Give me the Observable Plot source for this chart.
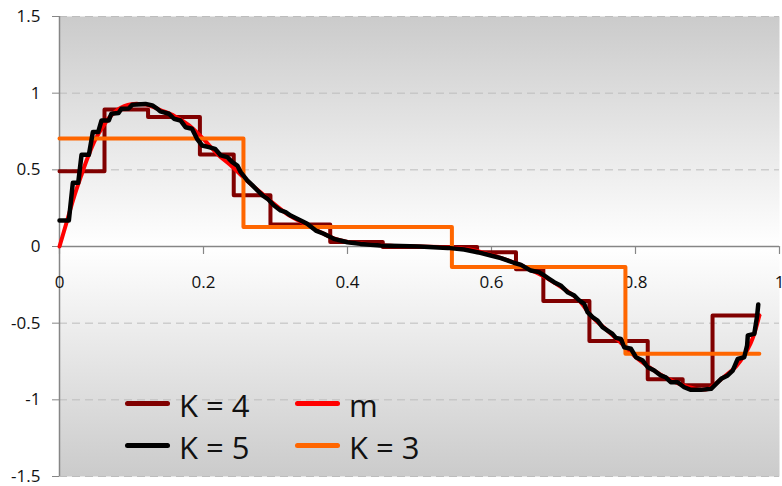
<!DOCTYPE html>
<html>
<head>
<meta charset="utf-8">
<script src="https://cdn.jsdelivr.net/npm/d3@7"></script>
<script src="https://cdn.jsdelivr.net/npm/@observablehq/plot@0.6"></script>
<style>
html, body { margin: 0; padding: 0; background: #fff; }
#chart { position: relative; width: 782px; height: 486px; font-family: "Open Sans", sans-serif; }
#chart svg { display: block; background: linear-gradient(to bottom, #fdfdfd 0%, #c9c9c9 52%, #f3f3f3 100%); }
.lg-item { position: absolute; display: flex; align-items: center; height: 36px; font-size: 31px; line-height: 36px; color: #111; white-space: nowrap; }
.lg-sw { width: 45px; height: 5px; border-radius: 3px; margin-right: 9px; }
.lg-item span { position: relative; top: 2px; }
</style>
</head>
<body>
<div id="chart"></div>
<script>
// ---- data ----
const xTicks = [0, 0.2, 0.4, 0.6, 0.8, 1];
const yTicks = [-1.5, -1, -0.5, 0, 0.5, 1, 1.5];
const gridY = [-1.5, -1, -0.5, 0.5, 1, 1.5];

// m (true function)
const mX = [0,0.01,0.02,0.03,0.04,0.05,0.06,0.07,0.08,0.09,0.10,0.11,0.12,0.13,0.14,0.16,0.18,0.20,0.22,0.24,0.26,0.28,0.30,0.32,0.34,0.36,0.38,0.40,0.43,0.46,0.50,0.54,0.57,0.60,0.62,0.64,0.66,0.68,0.70,0.72,0.74,0.76,0.78,0.80,0.82,0.84,0.86,0.88,0.90,0.92,0.94,0.96,0.972];
const mY = [0,0.16,0.32,0.46,0.59,0.70,0.78,0.845,0.89,0.915,0.928,0.93,0.925,0.91,0.89,0.85,0.79,0.70,0.60,0.52,0.43,0.35,0.27,0.20,0.15,0.10,0.055,0.03,0.015,0.005,0,-0.005,-0.02,-0.055,-0.085,-0.12,-0.165,-0.215,-0.275,-0.345,-0.46,-0.545,-0.63,-0.72,-0.79,-0.85,-0.895,-0.925,-0.93,-0.86,-0.78,-0.63,-0.45];

// K = 3 step approximation (start of each piece, level)
const k3Start = [0, 0.2555, 0.545, 0.786, 0.972];
const k3Level = [0.705, 0.127, -0.133, -0.70, -0.70];

// K = 4 step approximation
const k4Start = [0,0.0625,0.123,0.195,0.242,0.293,0.376,0.449,0.58,0.634,0.672,0.736,0.817,0.8655,0.907,0.972];
const k4Level = [0.49,0.894,0.845,0.60,0.335,0.143,0.03,-0.003,-0.037,-0.148,-0.355,-0.617,-0.866,-0.905,-0.45,-0.45];

// K = 5 approximation (fine staircase)
const k5X = [0,0.013,0.0185,0.026,0.0306,0.0408,0.0463,0.0537,0.0584,0.0685,0.072,0.082,0.086,0.096,0.101,0.1195,0.129,0.136,0.140,0.152,0.159,0.168,0.175,0.184,0.191,0.198,0.2075,0.216,0.224,0.233,0.240,0.247,0.2516,0.261,0.268,0.275,0.282,0.289,0.298,0.307,0.314,0.321,0.335,0.344,0.356,0.367,0.381,0.40,0.418,0.446,0.50,0.539,0.562,0.5805,0.599,0.613,0.622,0.631,0.641,0.6546,0.666,0.673,0.680,0.687,0.696,0.7056,0.715,0.7218,0.7287,0.7334,0.7403,0.7473,0.7542,0.7612,0.768,0.7728,0.7797,0.7843,0.7936,0.8006,0.81,0.817,0.826,0.835,0.842,0.849,0.8585,0.8677,0.877,0.891,0.905,0.912,0.919,0.928,0.935,0.942,0.951,0.955,0.956,0.965,0.969,0.9705];
const k5Y = [0.17,0.17,0.415,0.415,0.598,0.598,0.746,0.746,0.822,0.822,0.866,0.87,0.898,0.9,0.924,0.93,0.92,0.898,0.881,0.866,0.833,0.822,0.778,0.768,0.702,0.659,0.648,0.637,0.594,0.583,0.55,0.528,0.485,0.43,0.398,0.365,0.333,0.311,0.267,0.235,0.224,0.202,0.17,0.148,0.104,0.083,0.05,0.028,0.017,0.007,0.0,-0.009,-0.02,-0.037,-0.059,-0.076,-0.091,-0.106,-0.12,-0.157,-0.167,-0.189,-0.211,-0.233,-0.254,-0.298,-0.32,-0.352,-0.374,-0.428,-0.461,-0.483,-0.526,-0.548,-0.57,-0.596,-0.603,-0.657,-0.667,-0.722,-0.744,-0.787,-0.809,-0.841,-0.853,-0.885,-0.885,-0.918,-0.935,-0.935,-0.928,-0.896,-0.863,-0.841,-0.809,-0.733,-0.722,-0.646,-0.58,-0.57,-0.45,-0.378];

// legend
const legendNames = ["K = 4", "m", "K = 5", "K = 3"];
const legendColors = ["#800000", "#ff0000", "#000000", "#ff6600"];

// ---- build tables ----
const zip = (xs, ys) => xs.map((x, i) => ({x, y: ys[i]}));
const mData = zip(mX, mY);
const k3Data = zip(k3Start, k3Level);
const k4Data = zip(k4Start, k4Level);
const k5Data = zip(k5X, k5Y);
const fmt = d => String(d);
const axisGray = "#868686";
const tickShape = { draw(context, l) { context.moveTo(0, 0); context.lineTo(0, -l); } };

const lineOpts = {x: "x", y: "y", strokeLinejoin: "round", strokeLinecap: "round"};

const chart = Plot.plot({
  width: 782,
  height: 486,
  marginLeft: 59,
  marginRight: 3,
  marginTop: 16,
  marginBottom: 10,
  x: {domain: [0, 1], axis: null},
  y: {domain: [-1.5, 1.5]},
  style: {fontFamily: "'Open Sans', sans-serif", fontSize: "17px", color: "#111", background: "transparent", overflow: "visible"},
  marks: [
    Plot.frame({fill: "url(#plotbg)", stroke: "none"}),
    Plot.ruleY(gridY, {stroke: "#bdbdbd", strokeDasharray: "8,5", strokeWidth: 1}),
    Plot.ruleY([0], {stroke: axisGray, strokeWidth: 1.5}),
    Plot.ruleX([0], {stroke: axisGray, strokeWidth: 1.5}),
    Plot.axisY({ticks: yTicks, tickFormat: fmt, tickSize: 7, tickPadding: 12, stroke: axisGray, fontSize: 17, label: null}),
    Plot.vector(xTicks, {x: d => d, y: () => 0, length: 7, rotate: 180, anchor: "start", shape: tickShape, stroke: axisGray, strokeWidth: 1.2}),
    Plot.text(xTicks, {x: d => d, y: () => 0, dy: 36, text: fmt, fontSize: 17}),
    Plot.line(k4Data, {...lineOpts, curve: "step-after", stroke: "#800000", strokeWidth: 4}),
    Plot.line(mData, {...lineOpts, curve: "catmull-rom", stroke: "#ff0000", strokeWidth: 4}),
    Plot.line(k3Data, {...lineOpts, curve: "step-after", stroke: "#ff6600", strokeWidth: 4}),
    Plot.line(k5Data, {...lineOpts, stroke: "#000000", strokeWidth: 4.5})
  ]
});

// gradient for the plot area
const defs = d3.select(chart).insert("defs", ":first-child");
const g = defs.append("linearGradient").attr("id", "plotbg").attr("x1", 0).attr("y1", 0).attr("x2", 0).attr("y2", 1);
g.append("stop").attr("offset", "0%").attr("stop-color", "#cbcbcb");
g.append("stop").attr("offset", "50%").attr("stop-color", "#ffffff");
g.append("stop").attr("offset", "100%").attr("stop-color", "#cbcbcb");
const fr = chart.querySelector('[aria-label="frame"]');
if (fr) {
  const r = fr.tagName.toLowerCase() === "rect" ? fr : fr.querySelector("rect");
  if (r) r.setAttribute("fill", "url(#plotbg)");
}

const container = document.getElementById("chart");
container.appendChild(chart);

// legend (inside plot area, 2 columns)
const lgLeft = [125, 295];
const lgTop = [385, 427];
legendNames.forEach((name, i) => {
  const item = document.createElement("div");
  item.className = "lg-item";
  item.style.left = lgLeft[i % 2] + "px";
  item.style.top = lgTop[Math.floor(i / 2)] + "px";
  const sw = document.createElement("div");
  sw.className = "lg-sw";
  sw.style.background = legendColors[i];
  const t = document.createElement("span");
  t.textContent = name;
  item.appendChild(sw);
  item.appendChild(t);
  container.appendChild(item);
});
</script>
</body>
</html>
